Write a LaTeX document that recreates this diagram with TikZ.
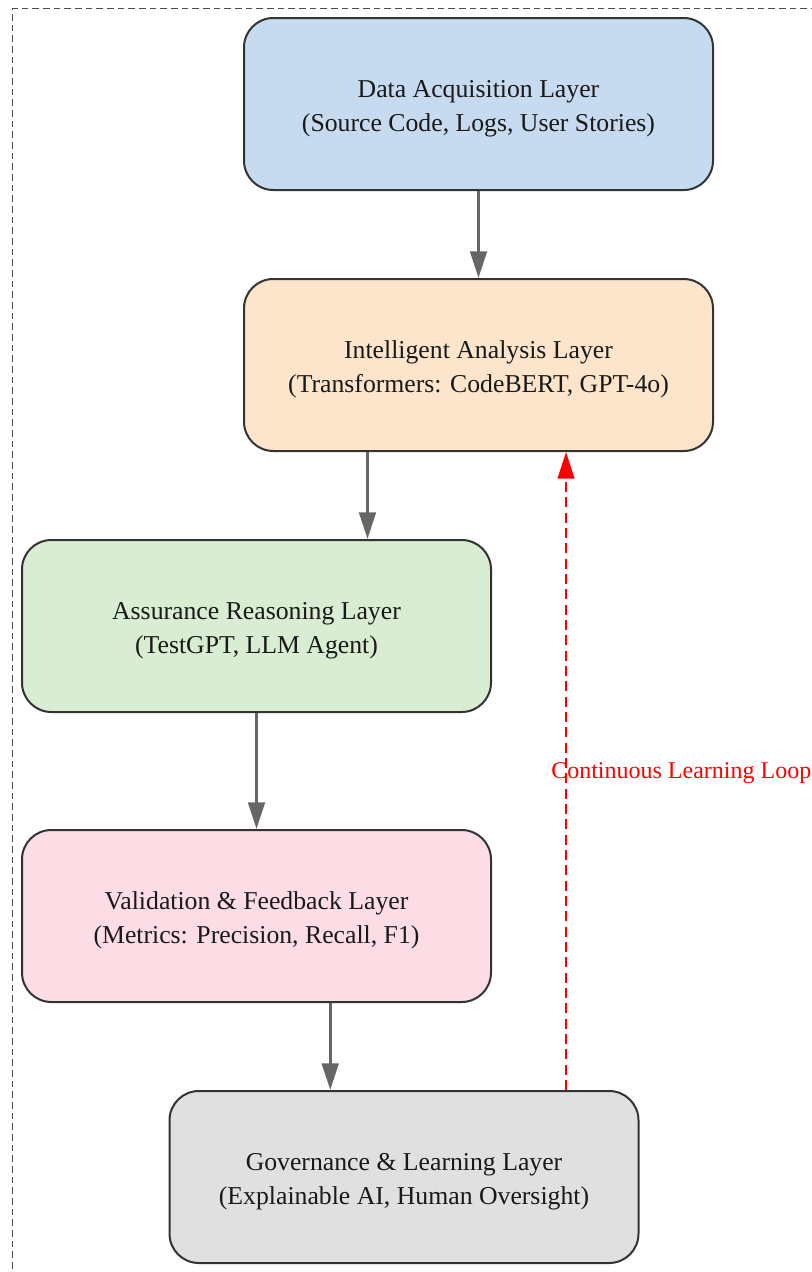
\documentclass[tikz,border=0pt]{standalone}
\usepackage{fontspec}
\setmainfont{Liberation Serif}
\usetikzlibrary{arrows.meta,calc}
\definecolor{bA}{HTML}{C6DBEF}
\definecolor{bB}{HTML}{FDE5CC}
\definecolor{bC}{HTML}{D9EDD3}
\definecolor{bD}{HTML}{FCDDE5}
\definecolor{bE}{HTML}{E0E0E0}
\definecolor{edgec}{HTML}{333333}
\definecolor{arrc}{HTML}{666666}
\definecolor{loopc}{HTML}{FF0000}
\newcommand{\tstrut}{\rule{0pt}{19.5pt}}
\tikzset{
  layer/.style={draw=edgec, line width=1.5pt, rounded corners=22pt,
    minimum width=351.75pt, minimum height=129pt, align=center,
    font=\fontsize{19.3}{25.5}\selectfont, text=black!90},
  arr/.style={draw=arrc, line width=2.2pt, -{Triangle[length=20pt,width=12.5pt]}},
  loop/.style={draw=loopc, line width=1.6pt, dash pattern=on 7.5pt off 4pt,
    -{Triangle[length=20pt,width=12.5pt]}},
}
\begin{document}
\begin{tikzpicture}[x=0.75pt,y=-0.75pt]
\useasboundingbox (0,0) rectangle (812,1272);
\draw[color=black!70, line width=1pt, dash pattern=on 5pt off 3pt] (12.5,1290) -- (12.5,8.5) -- (830,8.5);
\node[layer, fill=bA] (b1) at (478.5,104) {\tstrut Data Acquisition Layer\\(Source Code, Logs, User Stories)};
\node[layer, fill=bB] (b2) at (478.5,365) {\tstrut Intelligent Analysis Layer\\(Transformers: CodeBERT, GPT-4o)};
\node[layer, fill=bC] (b3) at (256.5,626) {\tstrut Assurance Reasoning Layer\\(TestGPT, LLM Agent)};
\node[layer, fill=bD] (b4) at (256.5,916) {\tstrut Validation \& Feedback Layer\\(Metrics: Precision, Recall, F1)};
\node[layer, fill=bE] (b5) at (404,1177) {\tstrut Governance \& Learning Layer\\(Explainable AI, Human Oversight)};
\draw[arr] (b1.south) -- (b2.north);
\coordinate (m23) at ($(b2.south west)!0.5!(b3.north east)$);
\draw[arr] (m23 |- b2.south) -- (m23 |- b3.north);
\draw[arr] (b3.south) -- (b4.north);
\coordinate (m45) at ($(b5.north west)!0.5!(b4.south east)$);
\draw[arr] (m45 |- b4.south) -- (m45 |- b5.north);
\coordinate (lp) at ($(b5.north west)!0.844!(b5.north east)$);
\draw[loop] (lp) -- (lp |- b2.south);
\node[anchor=west, inner sep=0pt, text=loopc, font=\fontsize{18}{22}\selectfont] (lbl) at (551,773) {Continuous Learning Loop};
\end{tikzpicture}
\end{document}
